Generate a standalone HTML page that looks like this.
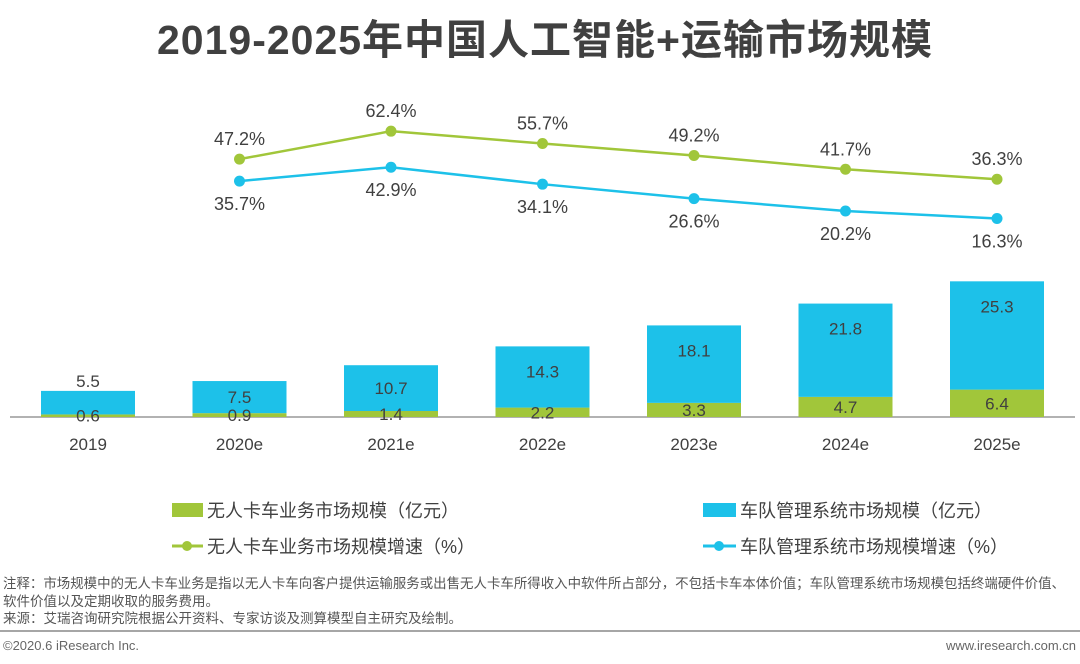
<!DOCTYPE html>
<html><head><meta charset="utf-8"><style>
body{margin:0;width:1080px;height:664px;background:#fff;overflow:hidden;font-family:"Liberation Sans","Noto Sans CJK SC",sans-serif}
svg{position:absolute;left:0;top:0}
</style></head><body>
<svg width="1080" height="664" id="c">
<text x="545" y="54" text-anchor="middle" font-size="41" font-weight="bold" fill="#404040" letter-spacing="1" font-family="Liberation Sans,Noto Sans CJK SC,sans-serif">2019-2025年中国人工智能+运输市场规模</text>
<line x1="10" y1="417" x2="1075" y2="417" stroke="#999" stroke-width="1.5"/>
<g font-size="18" fill="#404040">
<rect x="172" y="503" width="31" height="14" fill="#a1c63a"/>
<text x="207" y="517">无人卡车业务市场规模（亿元）</text>
<rect x="703" y="503" width="33" height="14" fill="#1dc1e9"/>
<text x="740" y="517">车队管理系统市场规模（亿元）</text>
<line x1="172" y1="546" x2="203" y2="546" stroke="#a1c63a" stroke-width="3"/><circle cx="187" cy="546" r="5" fill="#a1c63a"/>
<text x="207" y="553">无人卡车业务市场规模增速（%）</text>
<line x1="703" y1="546" x2="736" y2="546" stroke="#1dc1e9" stroke-width="3"/><circle cx="719" cy="546" r="5" fill="#1dc1e9"/>
<text x="740" y="553">车队管理系统市场规模增速（%）</text>
</g>
<g font-size="13.5" fill="#555">
<text x="3" y="588" textLength="1062" lengthAdjust="spacingAndGlyphs">注释：市场规模中的无人卡车业务是指以无人卡车向客户提供运输服务或出售无人卡车所得收入中软件所占部分，不包括卡车本体价值；车队管理系统市场规模包括终端硬件价值、</text>
<text x="3" y="606">软件价值以及定期收取的服务费用。</text>
<text x="3" y="623">来源：艾瑞咨询研究院根据公开资料、专家访谈及测算模型自主研究及绘制。</text>
</g>
<line x1="0" y1="631" x2="1080" y2="631" stroke="#888" stroke-width="1.5"/>
<text x="3" y="650" font-size="13" fill="#666">©2020.6 iResearch Inc.</text>
<text x="1076" y="650" font-size="13" fill="#666" text-anchor="end">www.iresearch.com.cn</text>
</svg>
<script>
const categories=["2019","2020e","2021e","2022e","2023e","2024e","2025e"];
const greenBars=[0.6,0.9,1.4,2.2,3.3,4.7,6.4];
const blueBars=[5.5,7.5,10.7,14.3,18.1,21.8,25.3];
const greenRates=[47.2,62.4,55.7,49.2,41.7,36.3];
const blueRates=[35.7,42.9,34.1,26.6,20.2,16.3];
const NS="http://www.w3.org/2000/svg",svg=document.getElementById('c');
const base=417,pxu=4.28,bw=94;
const xc=i=>88+i*151.5;
const yb=v=>base-v*pxu;
const yg=v=>246-1.84*v;
const yB=v=>250-1.93*v;
function mk(t,a){const e=document.createElementNS(NS,t);for(const k in a)e.setAttribute(k,a[k]);svg.appendChild(e);return e;}
function txt(x,y,s){const e=mk('text',{x:x,y:y,'text-anchor':'middle','font-size':17,fill:'#404040'});e.textContent=s;return e;}
categories.forEach((c,i)=>{
 const g=greenBars[i],b=blueBars[i],x=xc(i)-bw/2;
 const r1=mk('rect',{x:x,y:yb(g),width:bw,height:g*pxu,fill:'#a1c63a'});
 
 
 const r2=mk('rect',{x:x,y:yb(g+b),width:bw,height:b*pxu,fill:'#1dc1e9'});
 
 
 const top=yb(g+b),h=b*pxu;
 let ly=h<28?top-4:Math.min(top+31,top+h/2+6);
 const t1=txt(xc(i),ly,b.toFixed(1));
 
 
 const t2=txt(xc(i),Math.min(base-g*pxu/2+6,424),g.toFixed(1));
 
 
 const t3=txt(xc(i),450,c);
 
 
});
function line(rates,fy,col,above,name){
 const pts=rates.map((v,i)=>xc(i+1)+','+fy(v)).join(' ');
 const p=mk('polyline',{points:pts,fill:'none',stroke:col,'stroke-width':2.5});
 
 
 rates.forEach((v,i)=>{
  const d=mk('circle',{cx:xc(i+1),cy:fy(v),r:5.5,fill:col});
  
  
  const t=txt(xc(i+1),above?fy(v)-14:fy(v)+29,v.toFixed(1)+'%');
  t.setAttribute('font-size','18');
  
  
 });
}
line(greenRates,yg,'#a1c63a',true,'green-rate');
line(blueRates,yB,'#1dc1e9',false,'blue-rate');
</script>
</body></html>
